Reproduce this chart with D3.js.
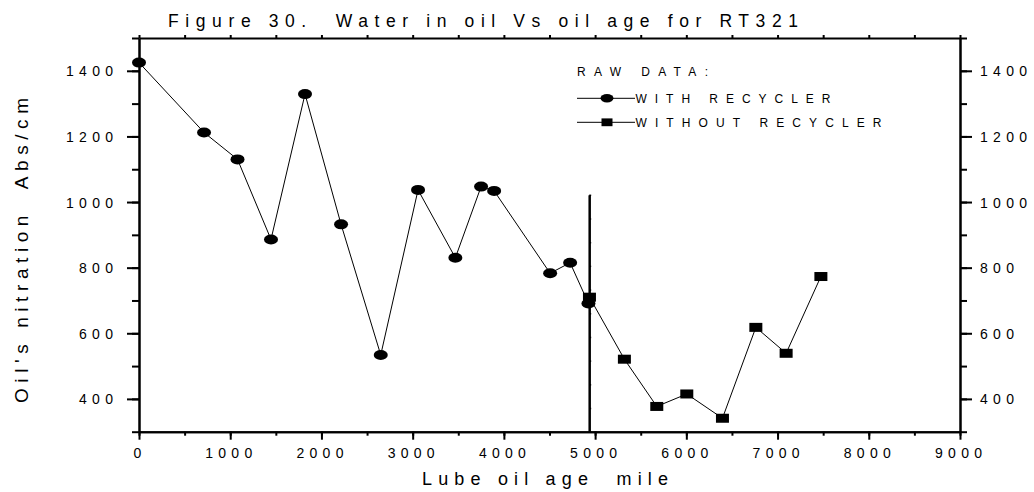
<!DOCTYPE html>
<html>
<head>
<meta charset="utf-8">
<script src="https://cdn.jsdelivr.net/npm/d3@7/dist/d3.min.js"></script>
<style>
  html, body { margin: 0; padding: 0; background: #fff; }
  svg { display: block; }
  text { font-family: "Liberation Sans", Arial, Helvetica, sans-serif; fill: #000; white-space: pre; }
</style>
</head>
<body>
<svg id="chart" width="1034" height="492"></svg>
<script>
// ---- data ----
const withX = [0, 713, 1080, 1447, 1820, 2215, 2650, 3059, 3468, 3750, 3893, 4507, 4726, 4927];
const withY = [1425, 1212, 1130, 886, 1329, 932, 534, 1037, 830, 1047, 1034, 783, 815, 691];
const withoutX = [4938, 5321, 5676, 6005, 6396, 6762, 7094, 7475];
const withoutY = [710, 521, 377, 415, 341, 618, 539, 773];
const xMajorTicks = [0, 1000, 2000, 3000, 4000, 5000, 6000, 7000, 8000, 9000];
const yMajorTicks = [400, 600, 800, 1000, 1200, 1400];
const separatorX = 4935;
const separatorTop = 1022;
const titleText = "Figure 30.  Water in oil Vs oil age for RT321";
const xTitle = "Lube oil age  mile";
const yTitle = "Oil's nitration  Abs/cm";
const legendTitle = "RAW DATA:";
const seriesNames = ["WITH RECYCLER", "WITHOUT RECYCLER"];

// ---- layout ----
const svg = d3.select("#chart");
const pL = 139, pR = 960, pT = 38, pB = 431.7;
const x = d3.scaleLinear().domain([0, 9000]).range([pL, pR]);
const y = d3.scaleLinear().domain([300, 1500]).range([pB, pT]);
const fmt = d3.format("d");

function styleAxis(g, w) {
  g.select(".domain").attr("stroke", "#000").attr("stroke-width", w);
  g.selectAll(".tick line").attr("stroke", "#000").attr("stroke-width", 2);
}

// minor ticks
svg.append("g").attr("transform", `translate(${pL},0)`)
  .call(d3.axisLeft(y).tickValues(d3.range(300, 1501, 100)).tickSize(7).tickSizeOuter(0).tickFormat(""))
  .call(g => styleAxis(g, 2));
svg.append("g").attr("transform", `translate(${pR},0)`)
  .call(d3.axisRight(y).tickValues(d3.range(300, 1501, 100)).tickSize(7).tickSizeOuter(0).tickFormat(""))
  .call(g => styleAxis(g, 2));
svg.append("g").attr("transform", `translate(0,${pB})`)
  .call(d3.axisBottom(x).tickValues(d3.range(0, 9001, 500)).tickSize(4).tickSizeOuter(0).tickFormat(""))
  .call(g => styleAxis(g, 2));
svg.append("g").attr("transform", `translate(0,${pT})`)
  .call(d3.axisTop(x).tickValues(d3.range(0, 9001, 500)).tickSize(3).tickSizeOuter(0).tickFormat(""))
  .call(g => styleAxis(g, 2));

// major ticks + labels
function labelStyle(sel) {
  sel.selectAll(".tick text")
    .attr("font-size", 14)
    .attr("font-family", '"Liberation Sans", Arial, sans-serif')
    .attr("fill", "#000")
    .attr("lengthAdjust", "spacing")
    .attr("textLength", function () { const n = this.textContent.length; return n >= 4 ? 47 : (n === 3 ? 34 : null); });
}
svg.append("g").attr("transform", `translate(${pL},0)`)
  .call(d3.axisLeft(y).tickValues(yMajorTicks).tickSize(12).tickSizeOuter(0).tickFormat(fmt))
  .call(g => styleAxis(g, 2))
  .call(g => { labelStyle(g); g.selectAll(".tick text").attr("x", -26).attr("dy", "0.36em"); });
svg.append("g").attr("transform", `translate(${pR},0)`)
  .call(d3.axisRight(y).tickValues(yMajorTicks).tickSize(12).tickSizeOuter(0).tickFormat(fmt))
  .call(g => styleAxis(g, 2))
  .call(g => { labelStyle(g); g.selectAll(".tick text").attr("x", 20).attr("dy", "0.36em"); });
svg.append("g").attr("transform", `translate(0,${pB})`)
  .call(d3.axisBottom(x).tickValues(xMajorTicks).tickSize(8).tickSizeOuter(0).tickFormat(fmt))
  .call(g => styleAxis(g, 2))
  .call(g => { labelStyle(g); g.selectAll(".tick text").attr("y", 26).attr("dy", 0).attr("x", -2); });

// separator line (axis-like, with tiny ticks)
const ySep = d3.scaleLinear().domain([300, separatorTop]).range([y(300), y(separatorTop)]);
svg.append("g").attr("transform", `translate(${x(separatorX)},0)`)
  .call(d3.axisRight(ySep).tickValues(d3.range(0, 11).map(i => 300 + i * (separatorTop - 300) / 10)).tickSize(2).tickSizeOuter(0).tickFormat(""))
  .call(g => { g.select(".domain").attr("stroke", "#000").attr("stroke-width", 2.5); g.selectAll(".tick line").attr("stroke", "#000").attr("stroke-width", 1.5); });

// series
const line = d3.line().x(d => x(d[0])).y(d => y(d[1]));
const withData = withX.map((v, i) => [v, withY[i]]);
const withoutData = withoutX.map((v, i) => [v, withoutY[i]]);
svg.append("path").datum(withData).attr("d", line).attr("fill", "none").attr("stroke", "#000").attr("stroke-width", 1);
svg.append("path").datum(withoutData).attr("d", line).attr("fill", "none").attr("stroke", "#000").attr("stroke-width", 1);
svg.append("g").selectAll("ellipse").data(withData).join("ellipse")
  .attr("cx", d => x(d[0])).attr("cy", d => y(d[1])).attr("rx", 7).attr("ry", 5).attr("fill", "#000");
svg.append("g").selectAll("rect").data(withoutData).join("rect")
  .attr("x", d => x(d[0]) - 6.5).attr("y", d => y(d[1]) - 4.5).attr("width", 13).attr("height", 9).attr("fill", "#000");

// titles
svg.append("text").attr("x", 168).attr("y", 27.3).attr("font-size", 17.5)
  .attr("textLength", 630).attr("lengthAdjust", "spacing").text(titleText);
svg.append("text").attr("x", 422).attr("y", 485).attr("font-size", 18)
  .attr("textLength", 246).attr("lengthAdjust", "spacing").text(xTitle);
svg.append("text").attr("transform", "translate(28.3,403) rotate(-90)").attr("font-size", 19)
  .attr("textLength", 305).attr("lengthAdjust", "spacing").text(yTitle);

// legend
const lg = svg.append("g");
lg.append("text").attr("x", 577).attr("y", 76).attr("font-size", 12)
  .attr("textLength", 131).attr("lengthAdjust", "spacing").text(legendTitle);
const rows = [{ y: 98.3, name: seriesNames[0], w: 195, shape: "circle" }, { y: 122.3, name: seriesNames[1], w: 246, shape: "square" }];
rows.forEach(r => {
  lg.append("line").attr("x1", 577).attr("x2", 635).attr("y1", r.y).attr("y2", r.y).attr("stroke", "#000").attr("stroke-width", 1);
  if (r.shape === "circle") lg.append("ellipse").attr("cx", 607).attr("cy", r.y).attr("rx", 6.5).attr("ry", 4.2).attr("fill", "#000");
  else lg.append("rect").attr("x", 601.5).attr("y", r.y - 3.9).attr("width", 11).attr("height", 7.8).attr("fill", "#000");
  lg.append("text").attr("x", 635.5).attr("y", r.y + 4.2).attr("font-size", 12)
    .attr("textLength", r.w).attr("lengthAdjust", "spacing").text(r.name);
});
</script>
</body>
</html>
